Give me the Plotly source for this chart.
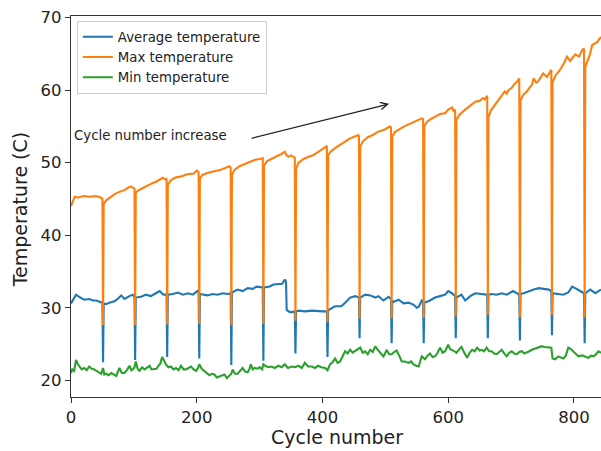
import plotly.graph_objects as go

# (cycle, temperature) readings
max_points = [
    (0, 44.0), (3, 44.8), (6, 45.3), (12, 45.2), (20, 45.4), (30, 45.3), (40, 45.4), (47, 45.2), (50, 45.0), (51, 27.6),
    (52, 44.3), (56, 44.8), (62, 45.2), (70, 45.7), (78, 46.0), (85, 46.2), (92, 46.6), (96, 46.7), (101, 46.4), (102, 27.6),
    (103, 45.8), (106, 46.1), (112, 46.4), (120, 46.8), (128, 47.1), (136, 47.4), (142, 47.7), (146, 47.9), (150, 47.7), (152, 47.8), (153, 27.7),
    (154, 46.9), (158, 47.5), (165, 47.9), (175, 48.1), (185, 48.4), (195, 48.5), (200, 48.9), (203, 48.7), (204, 27.8),
    (205, 47.8), (209, 48.3), (218, 48.6), (228, 48.8), (238, 49.0), (246, 49.3), (252, 49.5), (254, 49.3), (255, 27.6),
    (256, 48.3), (260, 49.0), (268, 49.5), (276, 49.8), (285, 50.1), (293, 50.4), (300, 50.5), (305, 50.6), (306, 27.8),
    (307, 49.6), (312, 50.2), (320, 50.6), (328, 50.9), (335, 51.2), (340, 51.5), (343, 51.0), (346, 50.8), (350, 51.0), (356, 50.7), (357, 28.2),
    (358, 49.2), (362, 50.0), (370, 50.5), (378, 50.8), (385, 51.0), (392, 51.4), (398, 51.7), (404, 52.1), (407, 52.3), (408, 28.0),
    (409, 51.0), (413, 51.5), (420, 52.0), (428, 52.4), (436, 52.9), (443, 53.3), (450, 53.6), (457, 53.8), (458, 53.6), (459, 28.5),
    (460, 52.2), (464, 52.9), (472, 53.5), (480, 53.8), (487, 54.2), (494, 54.4), (500, 54.6), (507, 55.0), (509, 54.8), (510, 28.5),
    (511, 53.6), (515, 54.2), (522, 54.6), (530, 55.0), (538, 55.3), (545, 55.6), (551, 55.8), (558, 56.1), (560, 56.0), (561, 28.6),
    (562, 55.0), (566, 55.6), (572, 56.0), (579, 56.3), (587, 56.7), (595, 56.8), (600, 57.3), (606, 57.6), (609, 57.0), (611, 57.3), (612, 28.8),
    (613, 55.9), (618, 56.6), (627, 57.3), (635, 57.8), (643, 58.4), (650, 58.5), (655, 58.9), (658, 58.7), (662, 59.2), (663, 29.0),
    (664, 56.3), (668, 57.2), (674, 57.9), (682, 58.8), (690, 59.8), (693, 59.5), (696, 60.0), (701, 60.3), (706, 60.9), (710, 61.2), (713, 61.6), (714, 28.7),
    (715, 58.6), (719, 59.3), (725, 59.8), (730, 60.4), (733, 60.7), (736, 61.6), (740, 61.0), (743, 61.2), (748, 61.8), (751, 62.3), (757, 61.8), (761, 62.3), (764, 62.8), (765, 29.0),
    (766, 61.1), (770, 61.9), (778, 62.8), (784, 63.7), (789, 64.6), (794, 64.0), (798, 64.4), (802, 64.9), (808, 64.6), (813, 65.5), (816, 65.7), (817, 28.7),
    (818, 63.2), (822, 64.2), (825, 64.8), (829, 66.2), (833, 66.4), (837, 66.6), (841, 67.1), (843, 67.3),
]

avg_points = [
    (0, 30.6), (2, 30.9), (5, 31.4), (8, 31.8), (13, 31.5), (21, 31.1), (29, 31.2), (35, 31.0), (40, 31.0), (48, 30.7), (50, 30.7), (51, 22.5),
    (52, 30.6), (56, 30.5), (61, 30.7), (69, 30.9), (74, 31.2), (80, 31.7), (85, 31.2), (93, 31.6), (98, 31.8), (101, 31.5), (102, 22.8),
    (103, 31.4), (111, 31.5), (119, 31.8), (127, 31.6), (135, 32.0), (141, 32.3), (147, 31.8), (152, 31.8), (153, 23.2),
    (154, 31.8), (162, 31.9), (170, 32.1), (178, 31.8), (186, 32.0), (194, 31.8), (201, 32.3), (203, 32.1), (204, 23.0),
    (205, 31.9), (210, 31.8), (217, 31.7), (225, 31.9), (233, 31.8), (241, 32.0), (249, 31.9), (254, 32.0), (255, 22.1),
    (256, 32.1), (265, 32.5), (273, 32.3), (281, 32.7), (289, 32.6), (295, 32.9), (305, 32.8), (306, 22.7),
    (307, 32.8), (315, 32.9), (322, 33.2), (330, 33.2), (336, 33.3), (340, 33.9), (342, 33.6), (343, 29.7), (348, 29.4), (351, 29.4), (356, 29.5), (357, 23.7),
    (358, 29.5), (362, 29.6), (372, 29.5), (383, 29.6), (393, 29.5), (400, 29.5), (407, 29.5), (408, 23.2),
    (409, 29.6), (412, 29.8), (420, 30.2), (430, 30.2), (436, 30.7), (444, 31.4), (452, 31.6), (458, 31.4), (459, 25.8),
    (460, 31.4), (468, 31.8), (476, 31.7), (484, 31.4), (489, 31.6), (497, 31.0), (505, 31.5), (509, 31.2), (510, 25.1),
    (511, 31.0), (513, 30.8), (521, 31.1), (529, 30.6), (537, 30.7), (545, 30.4), (550, 30.0), (553, 30.1), (558, 31.0), (560, 30.8), (561, 25.1),
    (562, 30.7), (571, 31.0), (579, 31.4), (587, 31.6), (595, 31.8), (600, 32.3), (606, 32.0), (611, 31.6), (612, 25.8),
    (613, 31.4), (621, 31.8), (627, 31.0), (635, 31.6), (643, 32.0), (653, 31.9), (662, 31.8), (663, 25.8),
    (664, 31.8), (669, 31.9), (677, 31.8), (685, 32.0), (693, 31.8), (703, 32.3), (713, 31.8), (714, 25.5),
    (715, 31.9), (720, 32.0), (728, 32.3), (736, 32.5), (744, 32.7), (752, 32.6), (760, 32.5), (764, 32.3), (765, 26.2),
    (766, 32.0), (775, 31.9), (783, 31.8), (791, 32.1), (797, 32.9), (802, 32.7), (810, 32.3), (816, 32.0), (817, 25.1),
    (818, 32.0), (826, 32.5), (834, 32.0), (843, 32.5),
]

min_points = [
    (0, 21.0), (2, 21.5), (5, 21.3), (8, 22.8), (11, 22.2), (13, 21.9), (17, 21.5), (21, 21.7), (25, 21.4), (29, 21.9),
    (33, 21.6), (37, 21.5), (41, 21.3), (45, 21.1), (48, 20.9), (51, 21.7), (53, 20.8), (56, 20.9), (60, 20.7), (64, 21.0),
    (68, 20.8), (72, 20.6), (77, 21.7), (81, 21.0), (85, 21.0), (89, 21.4), (93, 22.0), (96, 21.4), (98, 21.5), (101, 21.8),
    (103, 22.6), (106, 21.6), (109, 21.3), (113, 21.8), (117, 21.5), (121, 21.7), (125, 22.0), (128, 21.5), (132, 21.5),
    (136, 21.6), (139, 22.0), (142, 22.3), (145, 23.2), (148, 22.6), (151, 22.2), (155, 21.8), (159, 21.9), (163, 21.5),
    (167, 21.7), (171, 21.4), (175, 22.0), (179, 21.5), (183, 21.5), (187, 21.7), (191, 21.9), (195, 21.5), (199, 21.3),
    (202, 21.7), (204, 22.2), (208, 21.6), (212, 21.3), (216, 21.0), (220, 20.7), (224, 20.9), (228, 20.8), (232, 20.4),
    (236, 20.5), (240, 20.7), (244, 20.8), (248, 20.3), (252, 20.6), (255, 20.9), (257, 21.5), (261, 20.9), (265, 20.9),
    (269, 21.3), (273, 21.7), (277, 21.2), (281, 21.1), (284, 21.6), (286, 22.2), (289, 21.5), (292, 21.7), (296, 21.6),
    (300, 21.8), (304, 21.5), (306, 22.2), (309, 22.0), (314, 21.8), (319, 21.9), (324, 21.7), (330, 22.0), (335, 21.8),
    (340, 22.2), (345, 21.7), (351, 21.9), (356, 21.8), (362, 22.0), (367, 21.7), (372, 22.4), (377, 21.9), (383, 21.9),
    (388, 21.7), (393, 22.0), (398, 21.8), (404, 21.7), (408, 21.4), (412, 22.2), (416, 22.5), (420, 23.0), (424, 22.4),
    (428, 22.6), (432, 23.2), (436, 24.0), (440, 23.7), (444, 24.2), (448, 23.8), (452, 24.0), (456, 24.3), (460, 24.5),
    (464, 23.8), (468, 24.0), (472, 23.6), (476, 24.2), (480, 23.9), (484, 24.7), (487, 24.3), (489, 24.1), (493, 23.8),
    (497, 23.3), (500, 23.8), (502, 24.2), (506, 23.6), (510, 23.6), (514, 23.9), (518, 24.1), (522, 23.4), (526, 22.6),
    (531, 22.6), (537, 22.4), (541, 22.6), (545, 22.2), (549, 22.0), (553, 21.9), (556, 22.8), (558, 23.3), (563, 22.9),
    (567, 23.4), (571, 23.7), (575, 23.2), (579, 23.3), (583, 23.8), (587, 24.5), (591, 23.8), (595, 24.0), (600, 24.9),
    (603, 24.3), (606, 24.2), (610, 24.0), (613, 23.8), (617, 24.2), (621, 24.6), (625, 23.9), (630, 23.1), (634, 23.8),
    (638, 24.2), (642, 24.0), (646, 24.5), (650, 24.1), (653, 24.2), (657, 24.0), (661, 24.5), (665, 24.0), (669, 24.0),
    (673, 23.7), (677, 23.6), (681, 23.9), (685, 24.2), (689, 23.7), (693, 23.3), (697, 23.8), (701, 24.0), (705, 23.7),
    (709, 23.6), (713, 23.9), (717, 24.0), (721, 23.7), (725, 23.8), (729, 24.0), (733, 24.2), (737, 24.3), (741, 24.5),
    (745, 24.5), (749, 24.7), (753, 24.6), (757, 24.6), (761, 24.5), (764, 24.5), (766, 23.0), (770, 22.9), (775, 23.3),
    (779, 23.1), (783, 23.0), (787, 23.4), (791, 24.5), (795, 24.3), (799, 24.0), (803, 23.6), (807, 23.3), (811, 23.4),
    (815, 23.4), (819, 23.2), (823, 23.1), (827, 23.4), (831, 23.3), (835, 23.6), (839, 24.0), (843, 23.8),
]

series_names = ["Average temperature", "Max temperature", "Min temperature"]
series_colors = ["#1f77b4", "#ff7f0e", "#2ca02c"]
x_ticks = [0, 200, 400, 600, 800]
y_ticks = [20, 30, 40, 50, 60, 70]

FONT = "DejaVu Sans"
INK = "#222222"

fig = go.Figure()
for pts, name, color in zip([avg_points, max_points, min_points], series_names, series_colors):
    xs = [p[0] for p in pts]
    ys = [p[1] for p in pts]
    fig.add_trace(go.Scatter(x=xs, y=ys, mode="lines", name=name,
                             line=dict(color=color, width=2.1)))

fig.update_layout(
    width=601, height=451,
    margin=dict(l=71, r=0, t=16, b=54),
    paper_bgcolor="white", plot_bgcolor="white",
    font=dict(family=FONT, color=INK),
    showlegend=True,
    legend=dict(x=0.011, y=0.988, xanchor="left", yanchor="top",
                bgcolor="white", bordercolor="#cccccc", borderwidth=1,
                font=dict(size=13.3, family=FONT, color=INK),
                tracegroupgap=0),
)
fig.update_xaxes(range=[0, 843], tickvals=x_ticks, showgrid=False, zeroline=False,
                 showline=True, linecolor="#333333", linewidth=1.2, mirror=True,
                 ticks="outside", ticklen=5, tickcolor="#333333",
                 tickfont=dict(size=16.5, family=FONT, color=INK))
fig.update_yaxes(range=[17.7, 70.2], tickvals=y_ticks, showgrid=False, zeroline=False,
                 showline=True, linecolor="#333333", linewidth=1.2, mirror=False,
                 ticks="outside", ticklen=5, tickcolor="#333333",
                 tickfont=dict(size=16.5, family=FONT, color=INK))

fig.add_annotation(x=0.502, y=-0.105, xref="paper", yref="paper", text="Cycle number",
                   showarrow=False, font=dict(size=19, family=FONT, color=INK),
                   xanchor="center", yanchor="middle")
fig.add_annotation(x=-0.096, y=0.493, xref="paper", yref="paper", text="Temperature (C)",
                   showarrow=False, textangle=-90, font=dict(size=19, family=FONT, color=INK),
                   xanchor="center", yanchor="middle")
fig.add_annotation(x=2, y=53.7, xref="x", yref="y", text="Cycle number increase",
                   showarrow=False, font=dict(size=13.3, family=FONT, color=INK),
                   xanchor="left", yanchor="middle")
fig.add_annotation(x=506, y=58.1, ax=285, ay=53.3, xref="x", yref="y", axref="x", ayref="y",
                   text="", showarrow=True, arrowhead=5, arrowsize=1.1, arrowwidth=1.3,
                   arrowcolor=INK)

fig.write_html("out.html")
